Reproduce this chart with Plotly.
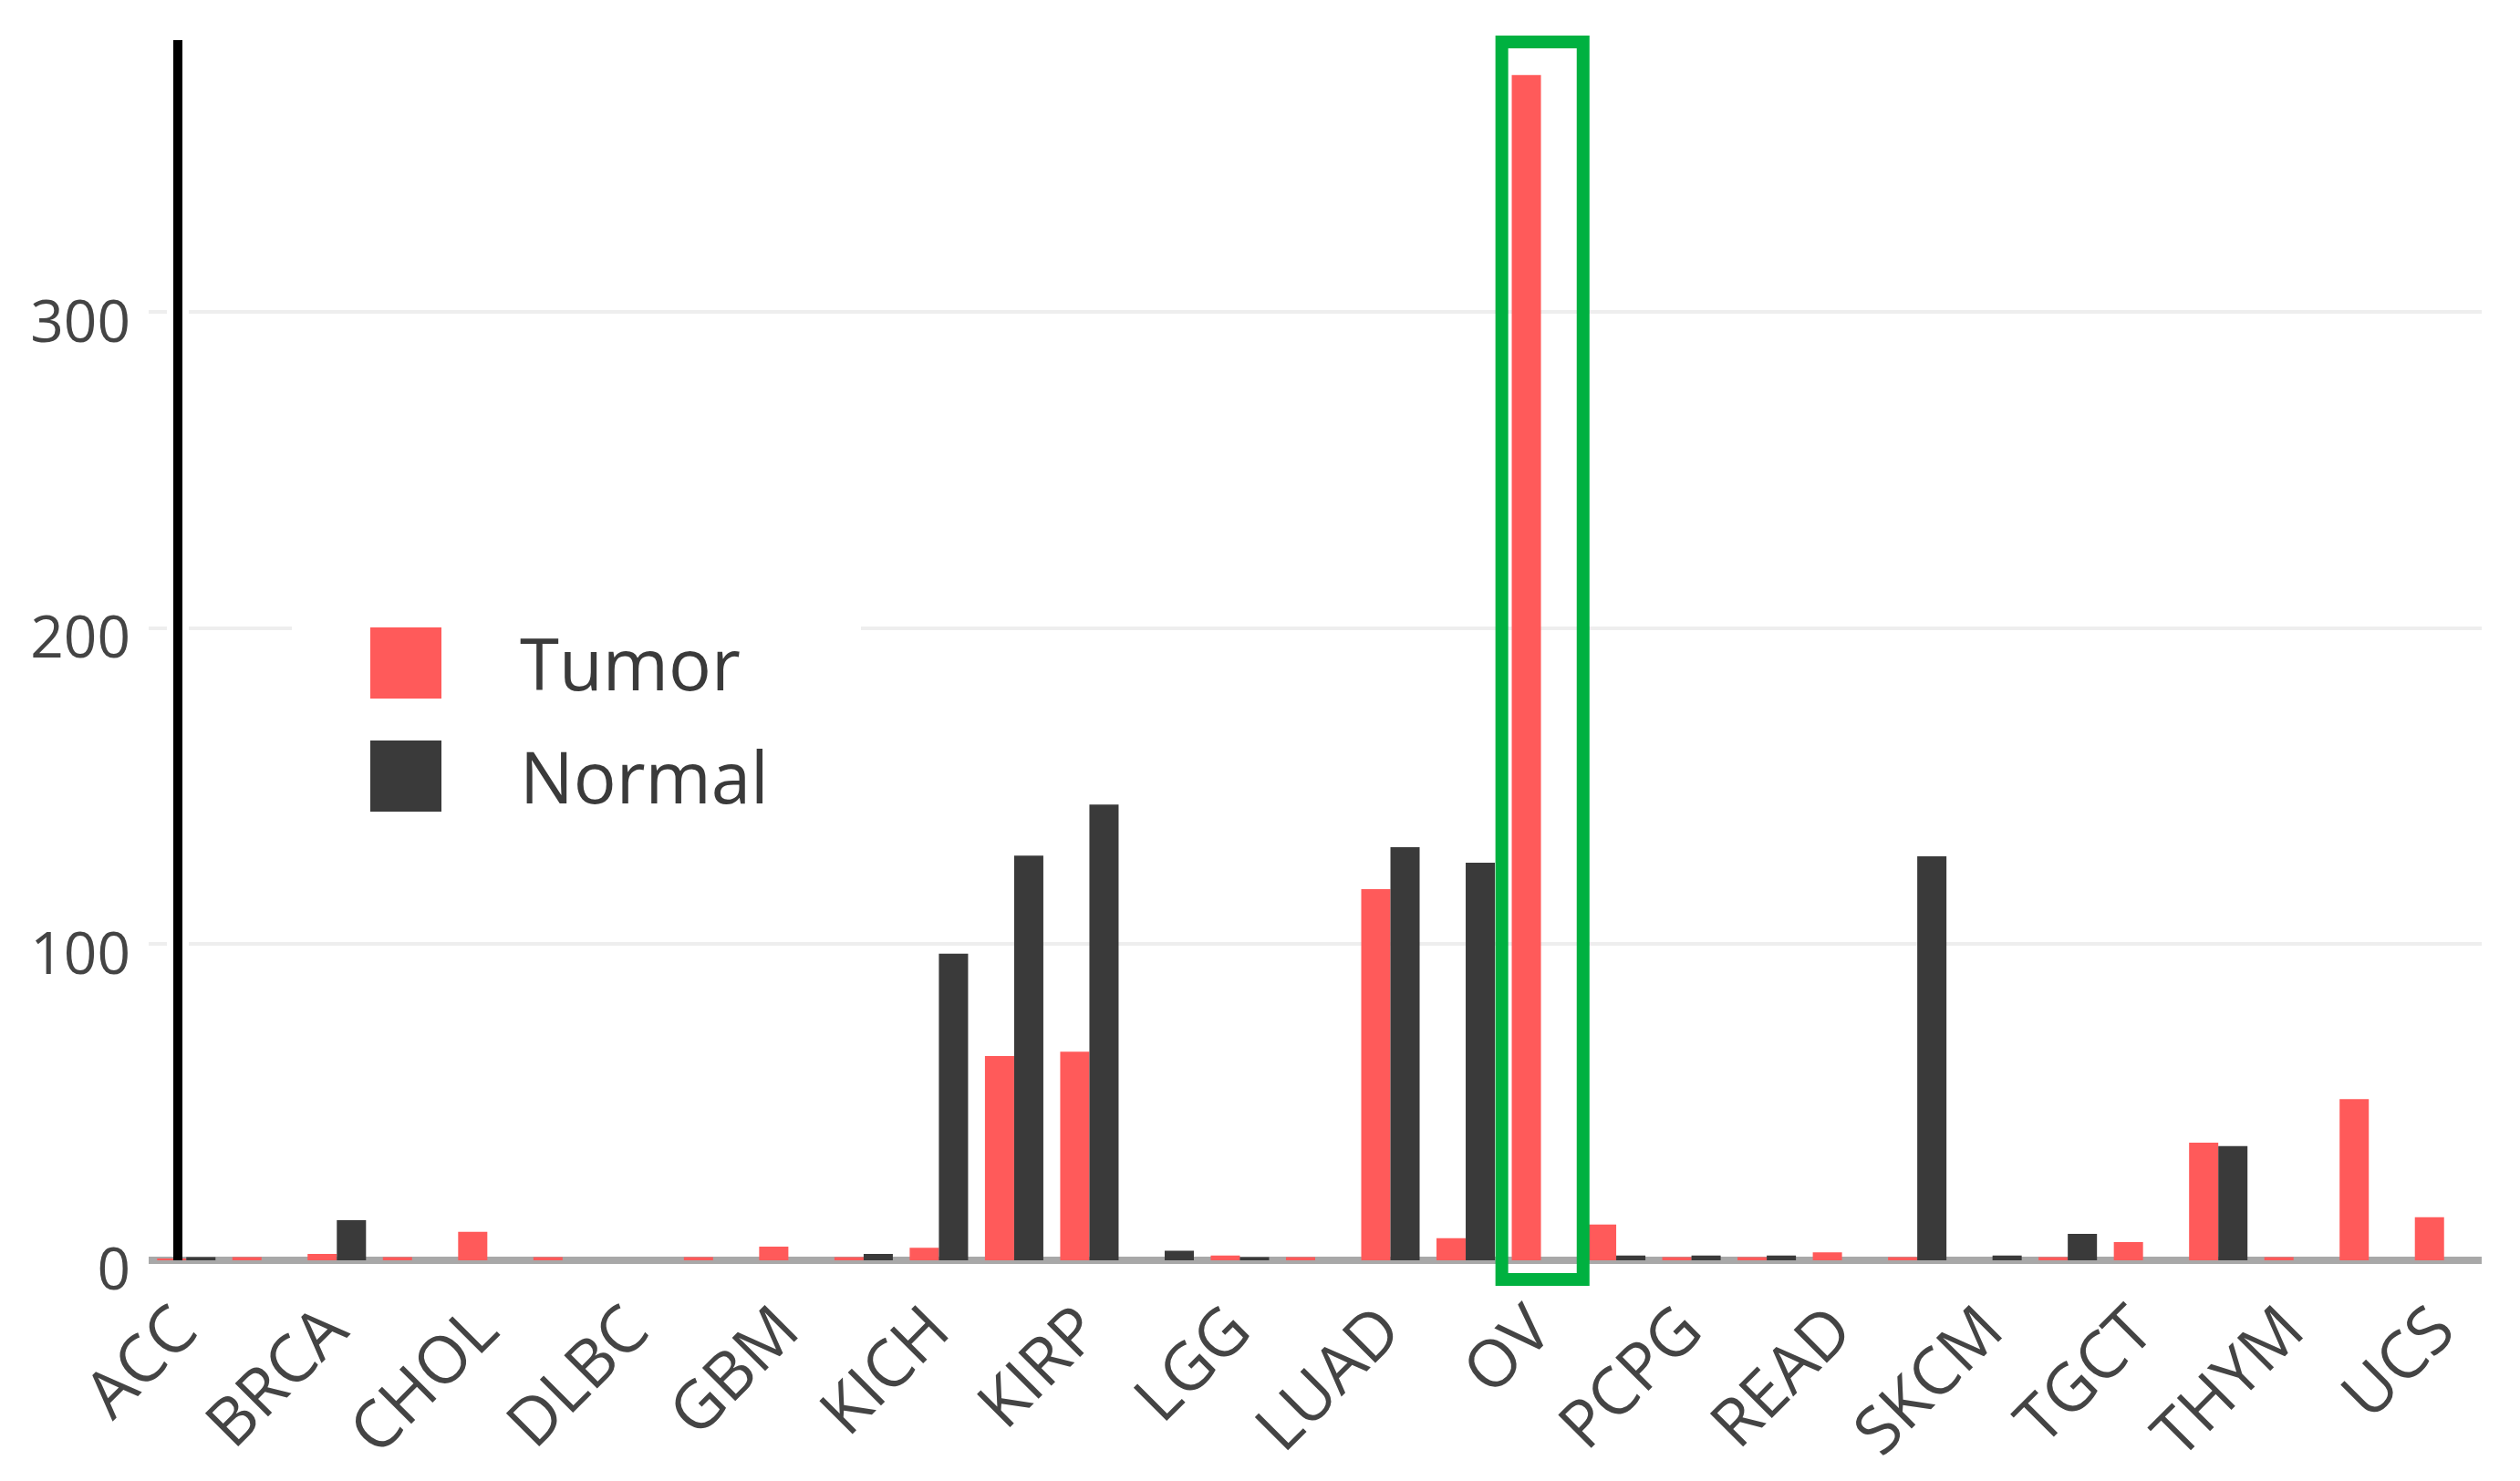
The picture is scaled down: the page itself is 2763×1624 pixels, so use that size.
import plotly.graph_objects as go

# ---- data ----
categories = ["ACC", "BLCA", "BRCA", "CESC", "CHOL", "COAD", "DLBC", "ESCA", "GBM", "HNSC",
              "KICH", "KIRC", "KIRP", "LAML", "LGG", "LIHC", "LUAD", "LUSC", "OV", "PAAD",
              "PCPG", "PRAD", "READ", "SARC", "SKCM", "STAD", "TGCT", "THCA", "THYM", "UCEC", "UCS"]
tumor = [0.5, 1, 2, 1, 9, 1, 0, 1, 4.3, 1,
         4, 64.6, 66, 0, 1.5, 1, 117.4, 7, 375, 11.3,
         1, 1, 2.5, 1, 0, 1, 5.8, 37.2, 1, 51, 13.6]
normal = [1, 0, 12.7, 0, 0, 0, 0, 0, 0, 2,
          97, 128, 144.2, 3, 1, 0, 130.7, 125.8, 0, 1.5,
          1.5, 1.5, 0, 127.8, 1.5, 8.4, 0, 36.1, 0, 0, 0]
tick_labels = categories[::2]
y_ticks = [0, 100, 200, 300]
series_names = ["Tumor", "Normal"]
highlight = "OV"

# ---- styles ----
W, H = 2763, 1624
L, R, T, B = 163, 42, 44, 242
TUMOR_C = "#ff5a5a"
NORMAL_C = "#3a3a3a"
FONT = "Open Sans"
TXT_C = "#444444"

fig = go.Figure()
fig.add_trace(go.Bar(name=series_names[0], x=categories, y=tumor, marker_color=TUMOR_C,
                     marker_line_width=0, showlegend=False))
fig.add_trace(go.Bar(name=series_names[1], x=categories, y=normal, marker_color=NORMAL_C,
                     marker_line_width=0, showlegend=False))

pw = W - L - R
ph = H - T - B


def px_x(X):
    return (X - L) / pw


def px_y(Y):
    return (H - B - Y) / ph


shapes = []
# vertical black axis-like line with white halo
lx = px_x(195)
shapes.append(dict(type="line", xref="paper", yref="paper", x0=lx, x1=lx, y0=0.008, y1=1,
                   line=dict(color="white", width=24), layer="above"))
shapes.append(dict(type="line", xref="paper", yref="paper", x0=lx, x1=lx, y0=0, y1=1,
                   line=dict(color="black", width=10), layer="above"))

# green highlight box around OV
hi = categories.index(highlight)
shapes.append(dict(type="rect", xref="x", yref="paper", x0=hi - 0.52, x1=hi + 0.56,
                   y0=px_y(1403), y1=px_y(46),
                   line=dict(color="#00b140", width=14), fillcolor="rgba(0,0,0,0)", layer="above"))

# manual legend (large symbols as in the reference)
shapes.append(dict(type="rect", xref="paper", yref="paper", x0=px_x(320), x1=px_x(944),
                   y0=px_y(945), y1=px_y(633), fillcolor="white", line=dict(width=0), layer="above"))
legend_rows = [(727, TUMOR_C, series_names[0]), (851, NORMAL_C, series_names[1])]
annotations = []
for cy, col, name in legend_rows:
    shapes.append(dict(type="rect", xref="paper", yref="paper", x0=px_x(406), x1=px_x(484),
                       y0=px_y(cy + 39), y1=px_y(cy - 39), fillcolor=col, line=dict(width=0),
                       layer="above"))
    annotations.append(dict(xref="paper", yref="paper", x=px_x(568), y=px_y(cy), text=name,
                            showarrow=False, xanchor="left", yanchor="middle",
                            font=dict(family=FONT, size=78, color="#3a3a3a")))

fig.update_layout(
    width=W, height=H,
    margin=dict(l=L, r=R, t=T, b=B, pad=0, autoexpand=False),
    paper_bgcolor="white", plot_bgcolor="white",
    barmode="group", bargap=0.224, bargroupgap=0,
    showlegend=False,
    font=dict(family=FONT, color=TXT_C),
    shapes=shapes,
    annotations=annotations,
)
fig.update_xaxes(type="category", tickmode="array", tickvals=tick_labels, ticktext=tick_labels,
                 tickangle=-45, tickfont=dict(family=FONT, size=72, color=TXT_C),
                 showgrid=False, showline=False, zeroline=False, ticks="", automargin=False,
                 ticklabelstandoff=18, ticklabelshift=-10,
                 range=[-0.5, len(categories) - 0.5])
fig.update_yaxes(range=[0, 386], tickmode="array", tickvals=y_ticks,
                 tickfont=dict(family=FONT, size=64, color=TXT_C),
                 showgrid=True, gridcolor="#eeeeee", gridwidth=4,
                 zeroline=True, zerolinecolor="#a8a8a8", zerolinewidth=8, automargin=False,
                 showline=False, ticks="", ticklabelstandoff=19, ticklabelshift=10)

fig.write_html("out.html", config={"displayModeBar": False},
               post_script="document.body.style.margin='0';")
